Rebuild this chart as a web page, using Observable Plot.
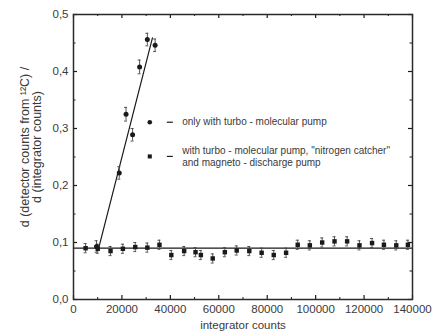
<!DOCTYPE html>
<html>
<head>
<meta charset="utf-8">
<script src="https://cdn.jsdelivr.net/npm/d3@7"></script>
<script src="https://cdn.jsdelivr.net/npm/@observablehq/plot@0.6"></script>
<style>
  html, body { margin: 0; padding: 0; background: #fff; }
  #chart svg { display: block; }
</style>
</head>
<body>
<div id="chart"></div>
<script>
// Series 1: only with turbo-molecular pump (circles)
const turboX = [9500, 18900, 21700, 24400, 27300, 30500, 33700];
const turboY = [0.093, 0.222, 0.325, 0.289, 0.408, 0.456, 0.446];
const turboErr = [0.010, 0.011, 0.012, 0.011, 0.012, 0.011, 0.011];

// Series 2: with turbo-molecular pump, nitrogen catcher and magneto-discharge pump (squares)
const catcherX = [5000, 10000, 15300, 20400, 25500, 30500, 35500, 40400, 45700, 50400, 52600, 57500, 62500, 67400, 72600, 77700, 82700, 87800, 92600, 97600, 102700, 107800, 113000, 118100, 123300, 128200, 133300, 138100];
const catcherY = [0.090, 0.089, 0.085, 0.089, 0.092, 0.091, 0.096, 0.078, 0.085, 0.083, 0.078, 0.072, 0.083, 0.086, 0.085, 0.082, 0.078, 0.082, 0.096, 0.095, 0.100, 0.102, 0.102, 0.095, 0.099, 0.096, 0.095, 0.096];
const catcherErr = 0.008;

// Fit lines
const fitRiseX = [10400, 32600];
const fitRiseY = [0.09, 0.459];
const fitFlatX = [0, 140000];
const fitFlatY = [0.09, 0.09];

// Axis ticks
const xTicks = [0, 20000, 40000, 60000, 80000, 100000, 120000, 140000];
const xMinor = [10000, 30000, 50000, 70000, 90000, 110000, 130000];
const yTicks = [0, 0.1, 0.2, 0.3, 0.4, 0.5];
const yMinor = [0.05, 0.15, 0.25, 0.35, 0.45];

// Legend
const legendLabels = ["only with turbo - molecular pump", "with turbo - molecular pump, \"nitrogen catcher\"\nand magneto - discharge pump"];

const turbo = turboX.map((x, i) => ({x, y: turboY[i], e: turboErr[i]}));
const catcher = catcherX.map((x, i) => ({x, y: catcherY[i], e: catcherErr}));
const fitRise = fitRiseX.map((x, i) => ({x, y: fitRiseY[i]}));
const fitFlat = fitFlatX.map((x, i) => ({x, y: fitFlatY[i]}));
const allPts = turbo.concat(catcher);

const W = 438, H = 336;
const mL = 73, mR = 26, mT = 14, mB = 37;
const xDomain = [0, 140000], yDomain = [0, 0.5];
// pixel -> data conversions for tick/cap lengths
const pxX = (xDomain[1] - xDomain[0]) / (W - mL - mR);
const pxY = (yDomain[1] - yDomain[0]) / (H - mT - mB);

const ink = "#1a1a1a";
const txt = "#3a3a3a";

const chart = Plot.plot({
  width: W,
  height: H,
  marginLeft: mL,
  marginRight: mR,
  marginTop: mT,
  marginBottom: mB,
  style: {fontFamily: "'Liberation Sans', Arial, sans-serif", background: "#fff"},
  x: {domain: xDomain},
  y: {domain: yDomain},
  marks: [
    Plot.axisX({ticks: xTicks, tickSize: 0, tickPadding: 5, tickFormat: d3.format("d"), fontSize: 11.5, color: txt, label: null}),
    Plot.axisY({ticks: yTicks, tickSize: 0, tickPadding: 5, tickFormat: d => d.toFixed(1).replace(".", ","), fontSize: 11.5, color: txt, label: null}),
    // inward ticks
    Plot.ruleX(xTicks, {x: d => d, y1: 0, y2: 4 * pxY, stroke: ink, strokeWidth: 1.2}),
    Plot.ruleX(xTicks, {x: d => d, y1: 0.5, y2: 0.5 - 4 * pxY, stroke: ink, strokeWidth: 1.2}),
    Plot.ruleX(xMinor, {x: d => d, y1: 0, y2: 2 * pxY, stroke: ink, strokeWidth: 1}),
    Plot.ruleX(xMinor, {x: d => d, y1: 0.5, y2: 0.5 - 2 * pxY, stroke: ink, strokeWidth: 1}),
    Plot.ruleY(yTicks, {y: d => d, x1: 0, x2: 4 * pxX, stroke: ink, strokeWidth: 1.2}),
    Plot.ruleY(yTicks, {y: d => d, x1: 140000, x2: 140000 - 4 * pxX, stroke: ink, strokeWidth: 1.2}),
    Plot.ruleY(yMinor, {y: d => d, x1: 0, x2: 2.5 * pxX, stroke: ink, strokeWidth: 1}),
    Plot.ruleY(yMinor, {y: d => d, x1: 140000, x2: 140000 - 2.5 * pxX, stroke: ink, strokeWidth: 1}),
    // fit lines
    Plot.line(fitFlat, {x: "x", y: "y", stroke: ink, strokeWidth: 1.2}),
    Plot.line(fitRise, {x: "x", y: "y", stroke: ink, strokeWidth: 1.2}),
    // error bars
    Plot.ruleX(allPts, {x: "x", y1: d => d.y - d.e, y2: d => d.y + d.e, stroke: "#444", strokeWidth: 0.9}),
    Plot.ruleY(allPts, {y: d => d.y + d.e, x1: d => d.x - 1.5 * pxX, x2: d => d.x + 1.5 * pxX, stroke: "#444", strokeWidth: 0.9}),
    Plot.ruleY(allPts, {y: d => d.y - d.e, x1: d => d.x - 1.5 * pxX, x2: d => d.x + 1.5 * pxX, stroke: "#444", strokeWidth: 0.9}),
    // markers
    Plot.dot(turbo, {x: "x", y: "y", symbol: "circle", r: 2.5, fill: ink, stroke: "none"}),
    Plot.dot(catcher, {x: "x", y: "y", symbol: "square", r: 2.5, fill: ink, stroke: "none"}),
    // legend
    Plot.dot([0], {x: 31500, y: 0.311, symbol: "circle", r: 2.3, fill: ink}),
    Plot.dot([0], {x: 31500, y: 0.251, symbol: "square", r: 2.3, fill: ink}),
    Plot.ruleY([0.311, 0.251], {y: d => d, x1: 40000 - 3 * pxX, x2: 40000 + 3 * pxX, stroke: ink, strokeWidth: 1.2}),
    Plot.text([legendLabels[0]], {x: 44900, y: 0.311, text: d => d, textAnchor: "start", fontSize: 10, fill: txt, lineAnchor: "middle"}),
    Plot.text([legendLabels[1]], {x: 44900, y: 0.252, text: d => d, textAnchor: "start", fontSize: 10, fill: txt, lineAnchor: "middle", lineHeight: 1.24}),
    // axis titles
    Plot.text(["integrator counts"], {frameAnchor: "bottom", text: d => d, textAnchor: "middle", dy: 26, fontSize: 11.5, fill: txt, lineAnchor: "middle"}),
    Plot.text(["d (detector counts from \u00B9\u00B2C) /\nd (integrator counts)"], {frameAnchor: "left", text: d => d, textAnchor: "middle", rotate: -90, dx: -42.5, dy: -10, fontSize: 12.5, fill: txt, lineAnchor: "middle", lineHeight: 0.95}),
    Plot.frame({stroke: "#2a2a2a", strokeWidth: 1.5})
  ]
});
document.getElementById("chart").appendChild(chart);
</script>
</body>
</html>
